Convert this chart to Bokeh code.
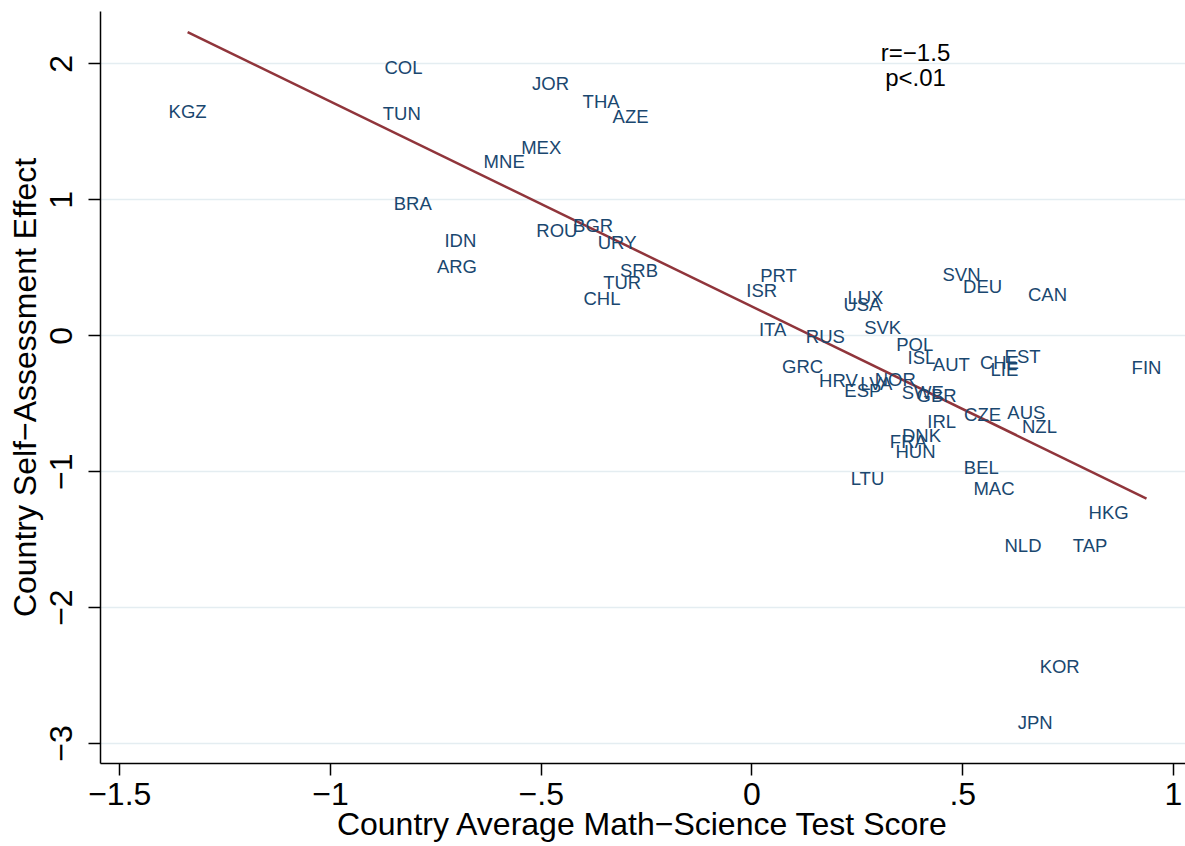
import numpy as np
from bokeh.plotting import figure
from bokeh.models import ColumnDataSource, Range1d, FixedTicker, Label
from bokeh.core.properties import value
from bokeh.embed import file_html
from bokeh.resources import INLINE

# Country codes, average math-science score (standardised) and self-assessment effect
codes = ["KGZ", "COL", "TUN", "JOR", "THA", "AZE", "MEX", "MNE", "BRA", "IDN",
         "ARG", "ROU", "BGR", "URY", "SRB", "TUR", "CHL", "PRT", "ISR", "LUX",
         "USA", "SVN", "DEU", "CAN", "ITA", "RUS", "SVK", "POL", "ISL", "AUT",
         "CHE", "EST", "LIE", "FIN", "GRC", "HRV", "LVA", "ESP", "NOR", "SWE",
         "GBR", "IRL", "CZE", "AUS", "NZL", "DNK", "FRA", "HUN", "BEL", "LTU",
         "MAC", "HKG", "NLD", "TAP", "KOR", "JPN"]
score = [-1.339, -0.827, -0.831, -0.478, -0.358, -0.288, -0.500, -0.588, -0.805, -0.692,
         -0.700, -0.463, -0.377, -0.320, -0.268, -0.308, -0.356, 0.063, 0.023, 0.269,
         0.262, 0.497, 0.547, 0.701, 0.049, 0.174, 0.310, 0.386, 0.402, 0.473,
         0.587, 0.642, 0.599, 0.936, 0.120, 0.205, 0.295, 0.263, 0.340, 0.405,
         0.438, 0.450, 0.547, 0.651, 0.682, 0.402, 0.371, 0.388, 0.544, 0.274,
         0.574, 0.846, 0.643, 0.802, 0.730, 0.672]
effect = [1.653, 1.971, 1.634, 1.853, 1.721, 1.615, 1.383, 1.279, 0.970, 0.703,
          0.509, 0.776, 0.815, 0.683, 0.484, 0.389, 0.278, 0.440, 0.333, 0.282,
          0.230, 0.451, 0.363, 0.304, 0.046, -0.005, 0.061, -0.064, -0.160, -0.211,
          -0.196, -0.152, -0.248, -0.233, -0.226, -0.329, -0.351, -0.403, -0.325, -0.417,
          -0.439, -0.631, -0.579, -0.564, -0.667, -0.734, -0.778, -0.851, -0.969, -1.050,
          -1.120, -1.297, -1.543, -1.543, -2.432, -2.849]

x_ticks = [-1.5, -1.0, -0.5, 0.0, 0.5, 1.0]
x_tick_labels = ["\u22121.5", "\u22121", "\u2212.5", "0", ".5", "1"]
y_ticks = [-3, -2, -1, 0, 1, 2]
y_tick_labels = ["\u22123", "\u22122", "\u22121", "0", "1", "2"]

stat_lines = ["r=\u22121.5", "p<.01"]

FONT = "Liberation Sans"
LABEL_BLUE = "#1A476F"
FIT_RED = "#90353B"

p = figure(frame_width=1085, frame_height=752,
           x_range=Range1d(-1.5457, 1.0285), y_range=Range1d(-3.147, 2.386),
           output_backend="svg", toolbar_location=None,
           min_border_left=100, min_border_right=0,
           min_border_top=11, min_border_bottom=83)
p.outline_line_color = None
p.background_fill_color = "white"
p.border_fill_color = "white"

# horizontal grid at the y ticks only
p.xgrid.visible = False
p.ygrid.ticker = FixedTicker(ticks=y_ticks)
p.ygrid.grid_line_color = "#E4EDF1"
p.ygrid.grid_line_width = 1.5

for ax, ticks, labels in ((p.xaxis, x_ticks, x_tick_labels),
                          (p.yaxis, y_ticks, y_tick_labels)):
    ax.ticker = FixedTicker(ticks=ticks)
    ax.major_label_overrides = {t: l for t, l in zip(ticks, labels)}
    ax.minor_tick_line_color = None
    ax.major_tick_out = 12
    ax.major_tick_in = 0
    ax.major_tick_line_color = "black"
    ax.major_tick_line_width = 1.5
    ax.axis_line_color = "black"
    ax.axis_line_width = 1.5
    ax.major_label_text_font = FONT
    ax.major_label_text_font_size = "32px"
    ax.major_label_text_color = "black"
    ax.axis_label_text_font = FONT
    ax.axis_label_text_font_size = "32px"
    ax.axis_label_text_font_style = "normal"
    ax.axis_label_text_color = "black"

p.xaxis.axis_label = "Country Average Math\u2212Science Test Score"
p.xaxis.major_label_standoff = 7
p.xaxis.axis_label_standoff = -2
p.yaxis.axis_label = "Country Self\u2212Assessment Effect"
# tick labels read bottom-to-top, centred on their ticks
p.yaxis.major_label_orientation = "vertical"
p.yaxis.major_label_standoff = 16
p.yaxis.axis_label_standoff = 5

# least-squares fit across the observed score range
slope, intercept = np.polyfit(score, effect, 1)
xs = np.array([min(score), max(score)])
p.line(xs, intercept + slope * xs, line_color=FIT_RED, line_width=2.5)

src = ColumnDataSource(dict(score=score, effect=effect, code=codes))
p.text(x="score", y="effect", text="code", source=src,
       text_align="center", text_baseline="middle",
       text_font=value(FONT), text_font_size=value("18.5px"),
       text_color=LABEL_BLUE)

for txt, yy in zip(stat_lines, [2.085, 1.901]):
    p.add_layout(Label(x=0.388, y=yy, text=txt, text_align="center",
                       text_baseline="middle", text_font=FONT,
                       text_font_size="24px", text_color="black"))

open("out.html", "w").write(file_html(p, INLINE))
